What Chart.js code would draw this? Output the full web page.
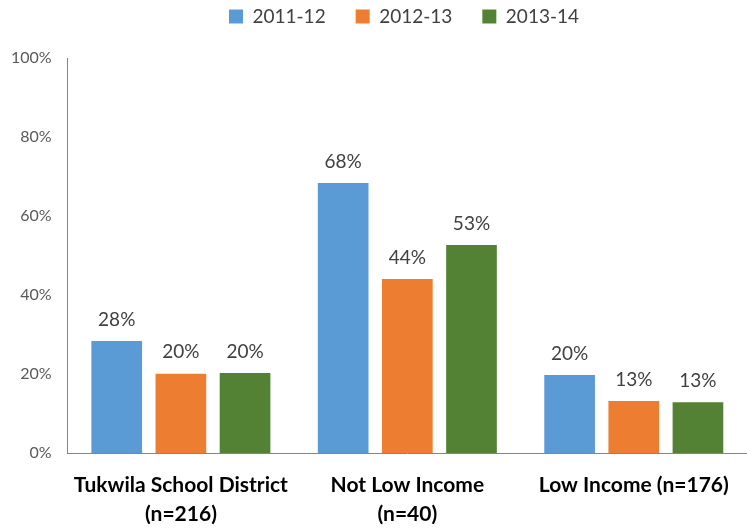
<!DOCTYPE html>
<html>
<head>
<meta charset="utf-8">
<script src="https://cdn.jsdelivr.net/npm/chart.js@4.4.1/dist/chart.umd.min.js"></script>
<style>
  body { margin: 0; background: #fff; }
</style>
</head>
<body>
<canvas id="chart" width="747" height="529"></canvas>
<script>
var categories = [
    ["Tukwila School District", "(n=216)"],
    ["Not Low Income", "(n=40)"],
    ["Low Income (n=176)"]
];
var seriesNames = ["2011-12", "2012-13", "2013-14"];
var values2011 = [28.4, 68.4, 19.8];
var values2012 = [20.1, 44.1, 13.2];
var values2013 = [20.3, 52.7, 12.9];
var colors = ["#5B9BD5", "#ED7D31", "#548235"];

// draws the % above every bar
var barLabels = {
    id: 'barLabels',
    afterDatasetsDraw: function (chart) {
        var ctx = chart.ctx;
        ctx.save();
        ctx.font = '19px Lato';
        ctx.fillStyle = '#404040';
        ctx.textAlign = 'center';
        ctx.textBaseline = 'bottom';
        chart.data.datasets.forEach(function (ds, i) {
            chart.getDatasetMeta(i).data.forEach(function (bar, j) {
                ctx.fillText(Math.round(ds.data[j]) + '%', bar.x, bar.y - 12);
            });
        });
        ctx.restore();
    }
};

// legend: fixed height, drawn higher up and a bit right of centre
var legendTweak = {
    id: 'legendTweak',
    beforeInit: function (chart) {
        var fit = chart.legend.fit;
        chart.legend.fit = function () {
            fit.call(this);
            this.height = 58;
        };
    },
    afterLayout: function (chart) {
        var lg = chart.legend;
        lg.left += 33;
        lg.right += 33;
        lg.top -= 23;
        lg.bottom -= 23;
    }
};

var data = {
    labels: categories,
    datasets: [
        { label: seriesNames[0], data: values2011, backgroundColor: colors[0] },
        { label: seriesNames[1], data: values2012, backgroundColor: colors[1] },
        { label: seriesNames[2], data: values2013, backgroundColor: colors[2] }
    ]
};

var options = {
    responsive: false,
    animation: false,
    layout: { padding: { top: 0, left: -5, right: 0, bottom: -17 } },
    datasets: {
        bar: { barPercentage: 0.79, categoryPercentage: 0.85 }
    },
    plugins: {
        tooltip: { enabled: false },
        legend: {
            position: 'top',
            labels: {
                font: { family: 'Lato', size: 19 },
                color: '#404040',
                boxWidth: 14,
                boxHeight: 14,
                padding: 30
            }
        }
    },
    scales: {
        x: {
            grid: { display: false, drawTicks: false },
            border: { color: '#868686', width: 1 },
            ticks: {
                font: { family: 'Lato', size: 21, weight: 'bold', lineHeight: 1.35 },
                color: '#000',
                padding: 18,
                maxRotation: 0,
                autoSkip: false
            }
        },
        y: {
            min: 0,
            max: 100,
            grid: { display: false, drawTicks: false },
            border: { color: '#868686', width: 1 },
            ticks: {
                stepSize: 20,
                font: { family: 'Lato', size: 16 },
                color: '#595959',
                padding: 16,
                callback: function (v) { return v + '%'; }
            }
        }
    }
};

var ctx = document.getElementById('chart').getContext('2d');
var chart = new Chart(ctx, { type: 'bar', data: data, options: options, plugins: [barLabels, legendTweak] });
</script>
</body>
</html>
